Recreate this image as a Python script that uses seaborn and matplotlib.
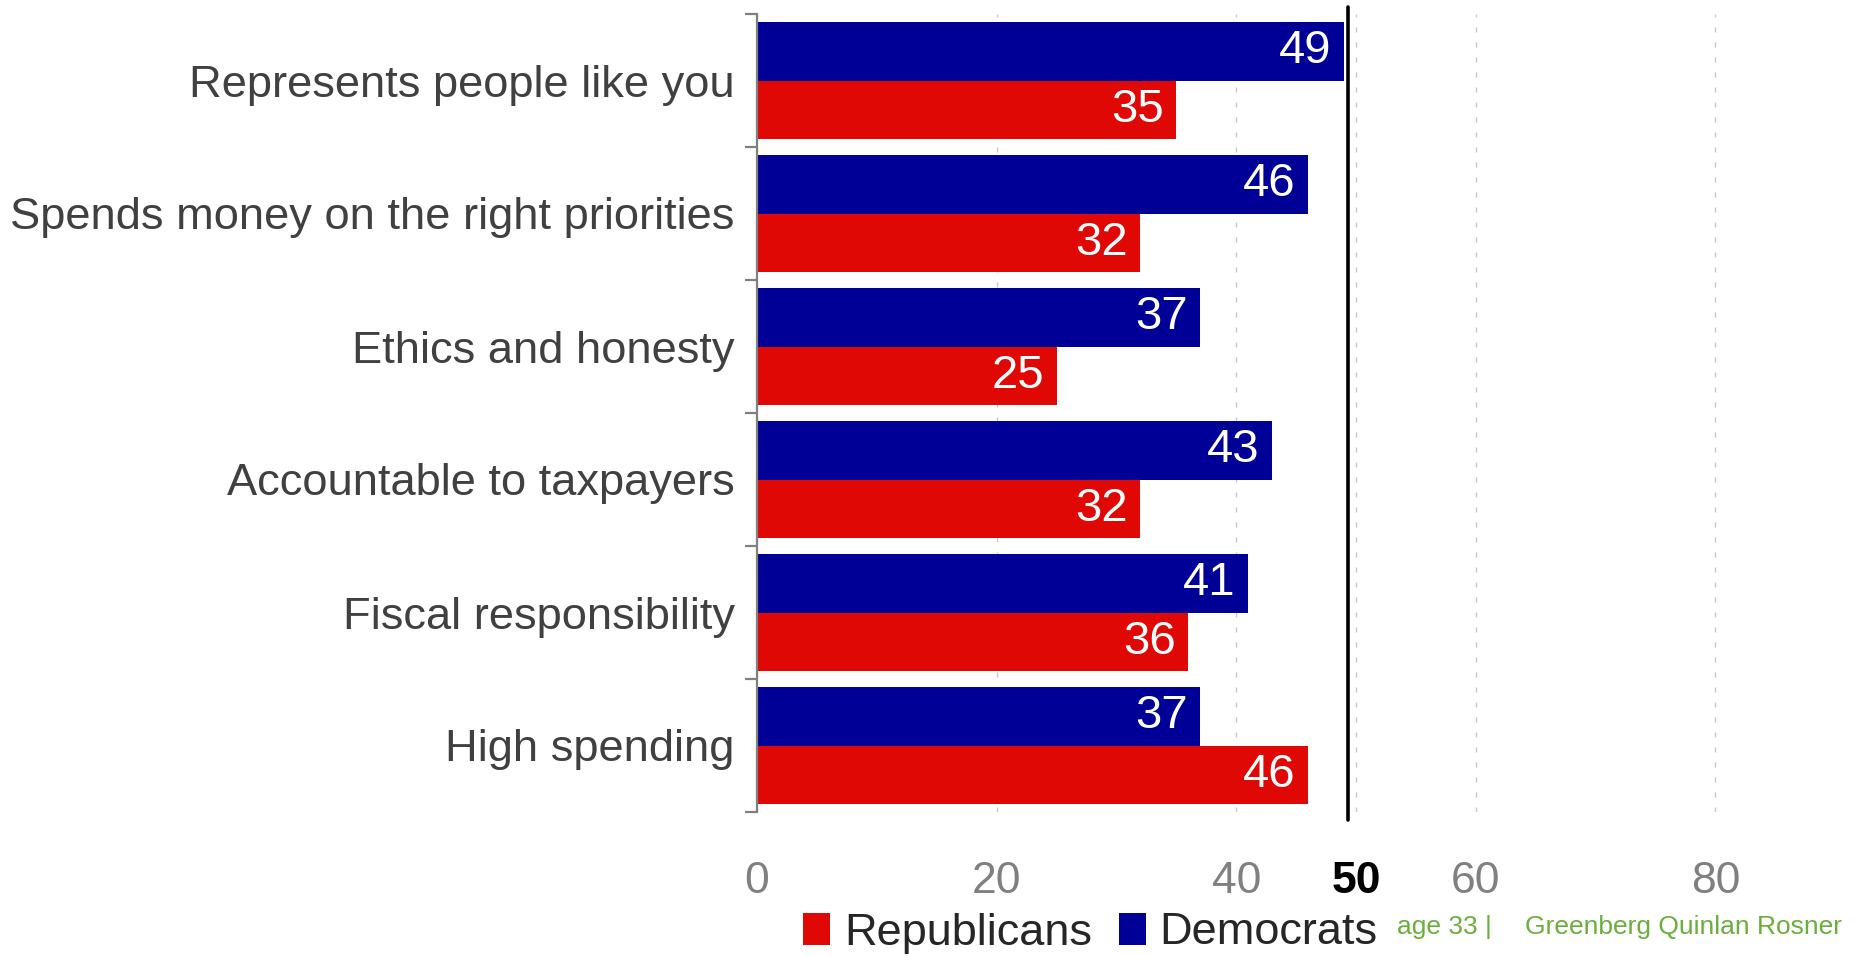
import matplotlib
matplotlib.use("Agg")
import matplotlib.pyplot as plt
from matplotlib.patches import Patch
from matplotlib.ticker import FixedLocator
import seaborn as sns
import pandas as pd

categories = ["Represents people like you", "Spends money on the right priorities",
              "Ethics and honesty", "Accountable to taxpayers",
              "Fiscal responsibility", "High spending"]
democrats = [49, 46, 37, 43, 41, 37]
republicans = [35, 32, 25, 32, 36, 46]
x_ticks = [0, 20, 40, 50, 60, 80]
marker_line = 49.3
footer_page = "age 33 |"
footer_org = "Greenberg Quinlan Rosner"

BLUE = "#000096"
RED = "#DF0805"
GRAY = "#808080"
GREEN = "#6aaf3c"

df = pd.DataFrame({
    "category": categories * 2,
    "value": democrats + republicans,
    "party": ["Democrats"] * len(categories) + ["Republicans"] * len(categories),
})

sns.set_style("white")
plt.rcParams["font.family"] = ["Liberation Sans", "DejaVu Sans"]

fig = plt.figure(figsize=(18.64, 9.56), dpi=100)
ax = fig.add_axes([757 / 1864, 1 - 812 / 956, 1 - 757 / 1864, (812 - 14) / 956])

sns.barplot(data=df, y="category", x="value", hue="party",
            hue_order=["Democrats", "Republicans"],
            palette={"Democrats": BLUE, "Republicans": RED},
            orient="h", width=0.885, dodge=True, saturation=1,
            linewidth=0, legend=False, ax=ax)

ax.set_xlim(0, 92.4)
ax.set_ylim(len(categories) - 0.5, -0.5)
ax.set_xlabel("")
ax.set_ylabel("")

# value labels inside bar ends
for cont in ax.containers:
    for p in cont:
        w = p.get_width()
        ax.annotate(f"{w:.0f}", xy=(w, p.get_y() + p.get_height() / 2),
                    xytext=(-9, 0), textcoords="offset points",
                    ha="right", va="center", color="white", fontsize=34)

# spines
for s in ["top", "right", "bottom"]:
    ax.spines[s].set_visible(False)
ax.spines["left"].set_color(GRAY)
ax.spines["left"].set_linewidth(1.6)

# y ticks: labels at centers, tick marks at boundaries
ax.yaxis.set_minor_locator(FixedLocator([i - 0.5 for i in range(len(categories) + 1)]))
ax.tick_params(axis="y", which="major", length=0, pad=16, labelsize=32.6, labelcolor="#404040")
ax.tick_params(axis="y", which="minor", length=9, width=1.6, color=GRAY, direction="out", left=True)
for lbl in ax.get_yticklabels():
    lbl.set_y(lbl.get_position()[1])

# x ticks
ax.set_xticks(x_ticks)
ax.set_xticklabels([str(t) for t in x_ticks])
ax.tick_params(axis="x", length=0, pad=35, labelsize=32, labelcolor=GRAY)
for lbl, t in zip(ax.get_xticklabels(), x_ticks):
    if t == 50:
        lbl.set_color("black")
        lbl.set_fontweight("bold")

ax.xaxis.grid(True, linestyle=(0, (3.6, 7.2)), color="#c8c8c8", linewidth=1)
ax.yaxis.grid(False)
ax.set_axisbelow(True)

ax.axvline(marker_line, ymin=-0.01, ymax=1.009, color="black", linewidth=2.6, clip_on=False, zorder=5)

handles = [Patch(facecolor=RED, edgecolor="none"), Patch(facecolor=BLUE, edgecolor="none")]
fig.legend(handles, ["Republicans", "Democrats"], loc="center",
           bbox_to_anchor=(0.585, 1 - 933 / 956), ncol=2, frameon=False,
           fontsize=32.5, handlelength=0.6, handleheight=0.7, handletextpad=0.3,
           columnspacing=0.6, borderpad=0, borderaxespad=0)

fig.text(1397 / 1864, 1 - 927 / 956, footer_page, color=GREEN, fontsize=19, va="center", ha="left")
fig.text(1525 / 1864, 1 - 927 / 956, footer_org, color=GREEN, fontsize=19, va="center", ha="left")

fig.savefig("out.png", dpi=100, facecolor="white")
